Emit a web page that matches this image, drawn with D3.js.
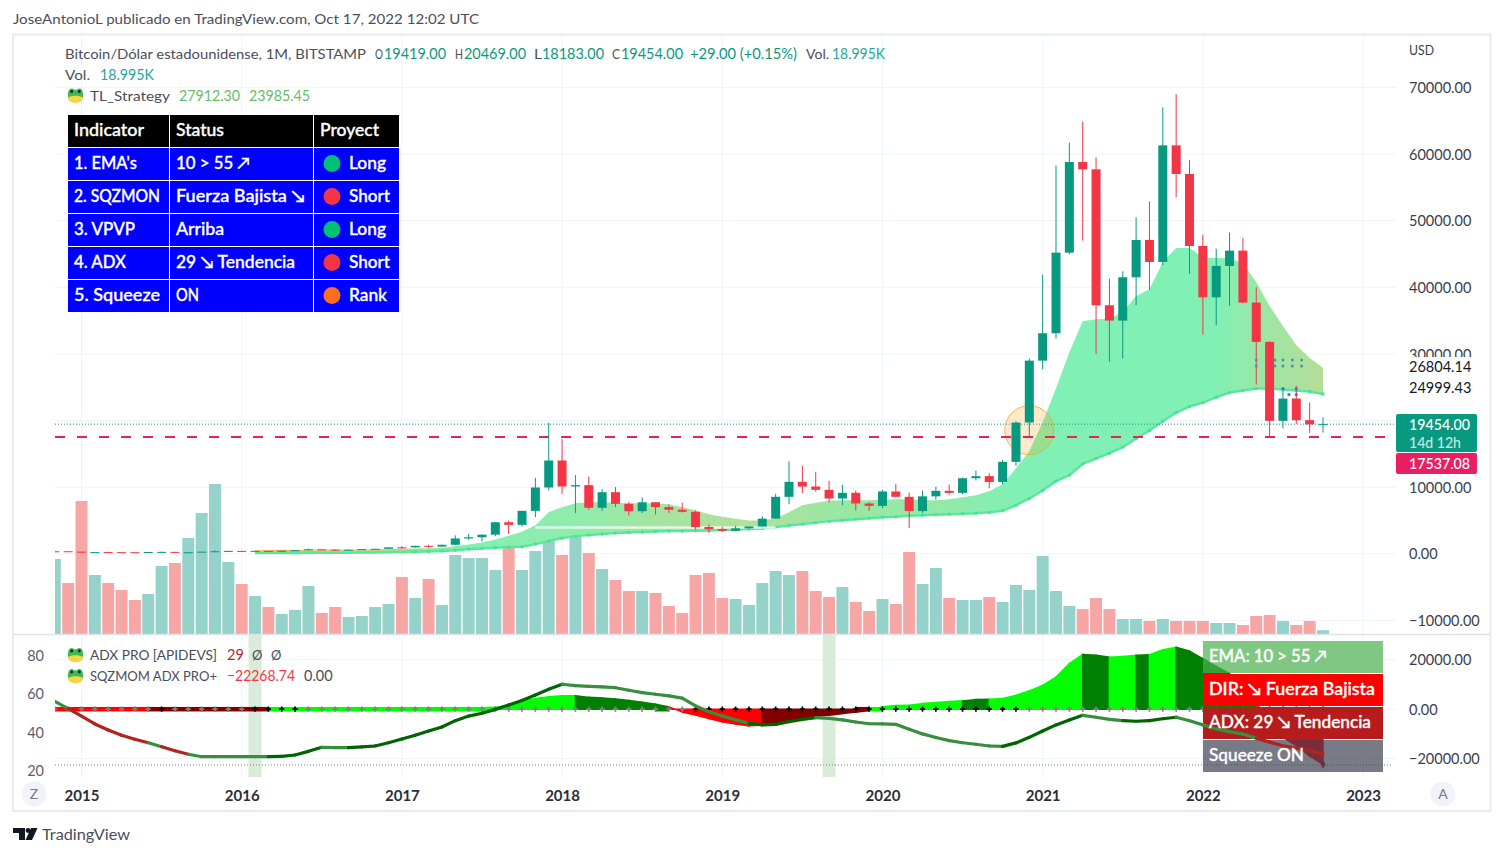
<!DOCTYPE html>
<html>
<head>
<meta charset="utf-8">
<title>BTCUSD</title>
<script src="https://cdn.jsdelivr.net/npm/d3@7"></script>
<style>
  html, body { margin: 0; padding: 0; background: #fff; }
  svg { display: block; }
  text { font-family: Lato, "Noto Sans", sans-serif; }
</style>
</head>
<body>
<div id="vis"></div>
<script>
// monthly bars, Nov 2014 -> Oct 2022
const opens = [338,378,320,217,254,244,236,230,263,284,230,236,314,377,430,368,436,416,448,530,671,624,575,610,700,745,968,965,1190,1080,1350,2300,2480,2870,4730,4340,6440,9950,14000,10100,10300,6900,9240,7500,6390,7730,7010,6610,6300,4015,3700,3440,3820,4100,5270,8550,10800,10090,9600,8300,9150,7550,7190,9350,8550,6410,8620,9450,9140,11340,11650,10780,13800,19700,28990,33100,45200,58800,57700,37300,35000,41500,47100,43800,61300,57000,46200,38500,43200,45500,37700,31800,19950,23300,20050,19419];
const highs = [457,382,320,266,300,261,247,268,318,285,262,335,502,470,465,448,440,470,550,780,705,620,640,740,760,980,1150,1200,1350,1350,2760,2990,2900,4750,4980,6450,11400,19666,17200,11800,11600,9750,10000,7780,8480,7750,7400,7680,6500,4400,4070,4200,4100,5600,9000,13880,13200,12300,10950,10350,9500,7750,9590,10500,9190,9460,10070,10380,11450,12480,12080,14100,19880,29300,41900,58300,61700,64900,59500,41300,42400,50500,52900,67000,69000,59100,47900,45800,48200,47400,40000,31900,24650,25200,22700,20469];
const lows = [320,309,152,212,236,214,228,218,252,198,225,235,310,350,350,367,395,412,435,530,605,470,570,605,690,745,750,930,890,1065,1350,2100,1830,2670,2950,4110,5500,9500,9000,6100,6600,6450,7000,5750,6100,5880,6100,6200,3650,3130,3350,3380,3700,4060,5250,7440,9100,9320,7700,7300,6500,6430,6850,8450,3850,6150,8120,8900,8950,11000,9830,10400,13200,17600,27700,32300,45000,47000,30000,28800,29300,37300,39600,43300,53500,42000,32900,34300,37200,37600,25400,17600,18800,19500,18150,18183];
const closes = [378,320,217,254,244,236,230,263,284,230,236,314,377,430,368,436,416,448,530,671,624,575,610,700,745,965,965,1190,1080,1350,2300,2480,2870,4730,4340,6440,9950,14000,10100,10300,6900,9240,7500,6390,7730,7010,6610,6300,4015,3700,3440,3820,4100,5270,8550,10800,10090,9600,8300,9150,7550,7190,9350,8550,6410,8620,9450,9140,11340,11650,10780,13800,19700,28990,33100,45200,58800,57700,37300,35000,41500,47100,43800,61300,57000,46200,38500,43200,45500,37700,31800,19950,23300,20050,19420,19454];
// volume in K
const volumes = [375,255,665,295,255,220,170,200,340,355,480,605,750,360,250,190,135,100,120,240,105,135,85,90,135,150,285,180,275,145,395,380,380,320,440,320,415,475,395,490,405,325,270,215,215,205,140,105,295,305,180,175,145,255,315,295,315,215,185,235,160,115,175,150,410,250,330,180,170,170,185,160,245,220,390,215,140,125,180,125,75,75,65,75,65,65,65,55,55,45,90,95,65,45,65,19];

// ribbon TL_Strategy, Feb 2016 -> Oct 2022
const ribbonStart = 15;
const emaFast = [560,580,600,610,620,630,640,650,660,680,710,740,790,840,920,1120,1400,1700,2150,2700,3300,4300,6250,7000,7600,7750,7750,7650,7600,7600,7600,7450,7000,6550,5950,5550,5250,5000,5000,5300,6250,7300,7650,7950,8050,8050,8050,8100,8200,8200,8050,8050,8200,8500,8800,9400,10450,12850,15400,19750,24850,30250,34900,35200,35300,36250,38700,39700,43800,45900,45900,44500,44400,44400,43600,40800,37200,34200,31300,29400,27912];
const emaSlow = [120,125,130,135,140,150,160,170,180,200,220,250,300,350,420,520,700,800,900,1000,1050,1450,1900,2350,2650,2800,2950,3100,3200,3250,3350,3400,3400,3450,3500,3550,3650,3700,3800,4000,4250,4450,4650,4900,5050,5200,5350,5500,5550,5700,5800,5850,5950,6000,6100,6250,6450,7300,8300,9500,10900,11800,13500,14300,15100,16000,17300,18500,19900,21200,22100,22700,23500,24200,24500,24800,24800,24650,24500,24350,23985];
const ribbonStopIdx = [15,17,19,26,31,40,46,52,58,66,72,87,91,95];
const ribbonStopColor = ["#f8c46c","#f6ad4c","#d8cf6e","#a9dc8c","#81f0b4","#92ebaa","#a6e3a0","#b2e09a","#9be6a2","#94e9a8","#81f0b4","#81f0b4","#a0e5a4","#b4dd96"];

// lower pane
const adxValues = [56.2,52.4,48.5,44.4,41.2,38.5,36.4,34.6,32.5,30.4,28.6,27.3,27.3,27.3,27.3,27.3,27.3,27.5,28.2,30.1,32.2,32,32,32.4,32.9,34.6,36.5,38.5,40.7,42.8,46.1,48.5,50,52,54.3,56.6,59.5,62.5,65.1,64.4,64,63.7,63.3,62,60.7,59.9,59,57.9,53.8,50.8,48.5,46.5,44.7,43.9,44.2,45.6,46.8,47.7,47.3,46.5,45.4,44.5,44.4,44.2,41.6,39.2,37.3,35.7,34.6,33.8,32.9,32.7,34.5,37.4,40.7,43.9,46.5,48.9,47.9,46.8,46.1,45.8,46.1,47.1,47.9,46.1,43.9,41.8,40.4,39.1,37,34.9,33,31.8,30.5,28.8];
// colour runs: d = dark green, m = faded green, r = red; colour of the piece that ends on that bar
const adxRuns = [["m",2],["r",6],["m",1],["r",2],["m",6],["d",4],["m",2],["d",16],["m",14],["d",5],["m",14],["d",6],["m",3],["d",4],["m",6],["r",5]];
const momValues = [-250,-260,-300,-300,-280,-250,-230,-260,-270,-250,-220,-200,-180,-150,-120,-90,-50,50,70,90,100,110,120,130,150,170,190,210,240,270,300,400,600,800,1200,3350,4300,5000,5400,5400,4800,4550,4150,3500,2800,2000,950,-1100,-2400,-3750,-5100,-6000,-6700,-6400,-5800,-4700,-3750,-2800,-2400,-1750,-1200,-500,950,1450,1600,2300,2700,3100,3350,3900,4000,4300,5600,7400,9650,13000,18400,22100,21800,21000,21300,21800,22000,24000,25000,23450,20400,17300,14300,9000,3000,-7500,-11400,-14600,-18900,-22268];
// colour runs: L lime, G green, R red, M maroon
const momRuns = [["R",8],["M",9],["L",23],["G",7],["R",7],["M",8],["L",7],["G",2],["L",7],["G",2],["L",2],["G",1],["L",2],["G",6],["R",5]];
const squeezeBlack = [8,15,16,17,18,48,49,50,51,52,53,54,55,56,57,58,59,60,61,62,63,64,65,66,67,68,69,70,71,72,91,92,93,94,95];
const fireBars = [15,58];

const dotBars = [90,91.4,92,92.7,93.4];
const dotPrices = [29100,28200];
const dotExtra = [[92,24800],[92.45,23900],[93,23900],[93,24800]];

const priceTicks = [70000,60000,50000,40000,30000,20000,10000,0,-10000];
const priceLabelTicks = [70000,60000,50000,40000,30000,10000,0,-10000];
const momTicks = [20000,0,-20000];
const adxTicks = [80,60,40,20];
const yearBars = [2,14,26,38,50,62,74,86,98];
const yearLabels = ["2015","2016","2017","2018","2019","2020","2021","2022","2023"];

const tableHeader = ["Indicator","Status","Proyect"];
const tableIndicators = ["1. EMA's","2. SQZMON","3. VPVP","4. ADX","5. Squeeze"];
const tableStatus = ["10 > 55 ↗","Fuerza Bajista ↘","Arriba","29 ↘ Tendencia","ON"];
const tableProject = ["Long","Short","Long","Short","Rank"];
const tableDots = ["#00c073","#f23645","#00c073","#f23645","#ff6d1f"];

const panelLabels = ["EMA: 10 > 55 ↗","DIR: ↘ Fuerza Bajista","ADX: 29 ↘ Tendencia","Squeeze ON"];
const panelColors = ["rgba(76,175,80,0.7)","#ff0000","#b71c1c","rgba(62,66,82,0.7)"];

const GREEN = "#089981", RED = "#f23645", PINK = "#e91e63";
const stateColor = { L: "#00ff00", G: "#008000", R: "#ff0000", M: "#800000",
                     d: "#006400", m: "#388e3c", r: "#b22222" };

const expandRuns = runs => runs.flatMap(r => Array(r[1]).fill(r[0]));
const adxStates = expandRuns(adxRuns);
const momStates = expandRuns(momRuns);

const svg = d3.select("#vis").append("svg").attr("width", 1504).attr("height", 856);

// scales
const x = d3.scaleLinear().domain([0, 95]).range([54.8, 1323]);
const yPrice = d3.scaleLinear().domain([-10000, 70000]).range([620.4, 87.4]);
const yVol = d3.scaleLinear().domain([0, 750]).range([634, 484]);
const yMom = d3.scaleLinear().domain([-20000, 20000]).range([758.7, 659.7]);
const yAdx = d3.scaleLinear().domain([20, 80]).range([770.7, 655.7]);

const defs = svg.append("defs");
defs.append("clipPath").attr("id", "clipMain").append("rect")
    .attr("x", 55).attr("y", 35).attr("width", 1341).attr("height", 599);
defs.append("clipPath").attr("id", "clipLow").append("rect")
    .attr("x", 55).attr("y", 635).attr("width", 1341).attr("height", 142);

const grad = defs.append("linearGradient").attr("id", "ribbonFill")
    .attr("gradientUnits", "userSpaceOnUse")
    .attr("x1", x(ribbonStart)).attr("x2", x(95)).attr("y1", 0).attr("y2", 0);
grad.selectAll("stop").data(ribbonStopIdx).join("stop")
    .attr("offset", d => (d - ribbonStart) / (95 - ribbonStart))
    .attr("stop-color", (d, i) => ribbonStopColor[i]);

// helper for plain labels
function label(parent, px, py, s, fill, size, width, weight) {
    const t = parent.append("text").attr("x", px).attr("y", py).attr("fill", fill)
        .attr("font-size", size).text(s);
    if (width) t.attr("textLength", width).attr("lengthAdjust", "spacingAndGlyphs");
    if (weight) t.attr("font-weight", weight);
    return t;
}
// white labels inside the table and the panel, slightly heavier
function boldLabel(parent, px, py, s, width) {
    return label(parent, px, py, s, "#fff", 17, width, 500)
        .attr("stroke", "#fff").attr("stroke-width", 0.35);
}

// frame
svg.append("rect").attr("x", 13).attr("y", 34.5).attr("width", 1477.5).attr("height", 776.5)
    .attr("fill", "none").attr("stroke", "#e9eaec").attr("stroke-width", 2);

// grid
const grid = svg.append("g").attr("stroke", "#f0f3fa").attr("stroke-width", 1);
grid.selectAll(".h").data(priceTicks).join("line")
    .attr("x1", 55).attr("x2", 1396)
    .attr("y1", d => yPrice(d)).attr("y2", d => yPrice(d));
grid.selectAll(".v").data(yearBars).join("line")
    .attr("x1", d => x(d)).attr("x2", d => x(d)).attr("y1", 35).attr("y2", 777);
grid.selectAll(".m").data(momTicks).join("line")
    .attr("x1", 55).attr("x2", 1396)
    .attr("y1", d => yMom(d)).attr("y2", d => yMom(d));

const main = svg.append("g").attr("clip-path", "url(#clipMain)");

// volume
main.append("g").selectAll("rect").data(volumes).join("rect")
    .attr("x", (d, i) => x(i) - 6)
    .attr("width", 12)
    .attr("y", d => yVol(d))
    .attr("height", d => 634 - yVol(d))
    .attr("fill", (d, i) => closes[i] >= opens[i] ? "#94d2ca" : "#f7a6a6");

// ribbon
const ribbonData = emaFast.map((d, i) => ({ i: i + ribbonStart, fast: d, slow: emaSlow[i] }));
main.append("path").datum(ribbonData)
    .attr("fill", "url(#ribbonFill)")
    .attr("d", d3.area().x(d => x(d.i)).y0(d => yPrice(d.slow)).y1(d => yPrice(d.fast)));
main.append("path").datum(ribbonData)
    .attr("fill", "none").attr("stroke", "#58e89c").attr("stroke-width", 2.5)
    .attr("d", d3.line().x(d => x(d.i)).y(d => yPrice(d.slow)));
main.append("g").selectAll("circle").data(ribbonData.filter(d => d.i > 26)).join("circle")
    .attr("cx", d => x(d.i)).attr("cy", d => yPrice(d.slow)).attr("r", 1.7)
    .attr("fill", "#48e296");
// pale strip inside the ribbon
main.append("line")
    .attr("x1", x(36)).attr("x2", x(54))
    .attr("y1", yPrice(3950)).attr("y2", yPrice(3950))
    .attr("stroke", "#fff").attr("stroke-opacity", 0.75).attr("stroke-width", 2.5);

// circle marker
main.append("circle").attr("cx", x(73)).attr("cy", yPrice(18550)).attr("r", 24.5)
    .attr("fill", "#ff9800").attr("fill-opacity", 0.2)
    .attr("stroke", "#f5a623").attr("stroke-opacity", 0.8);

// level lines
main.append("line").attr("x1", 55).attr("x2", 1396)
    .attr("y1", yPrice(19454)).attr("y2", yPrice(19454))
    .attr("stroke", GREEN).attr("stroke-dasharray", "1 2");
main.append("line").attr("x1", 55).attr("x2", 1386)
    .attr("y1", yPrice(17537)).attr("y2", yPrice(17537))
    .attr("stroke", PINK).attr("stroke-width", 2).attr("stroke-dasharray", "10 12");

// candles
const candles = main.append("g").selectAll("g").data(opens).join("g")
    .attr("fill", (d, i) => closes[i] >= d ? GREEN : RED)
    .attr("stroke", (d, i) => closes[i] >= d ? GREEN : RED);
candles.append("line")
    .attr("x1", (d, i) => x(i)).attr("x2", (d, i) => x(i))
    .attr("y1", (d, i) => yPrice(highs[i])).attr("y2", (d, i) => yPrice(lows[i]));
candles.append("rect")
    .attr("stroke", "none")
    .attr("x", (d, i) => x(i) - 4.5).attr("width", 9)
    .attr("y", (d, i) => yPrice(Math.max(d, closes[i])))
    .attr("height", (d, i) => Math.max(1, Math.abs(yPrice(d) - yPrice(closes[i]))));

// blue dots near the last bars
const dotPts = dotBars.flatMap(b => dotPrices.map(p => [b, p]));
main.append("g").selectAll("circle").data(dotPts).join("circle")
    .attr("cx", d => x(d[0])).attr("cy", d => yPrice(d[1])).attr("r", 1.5).attr("fill", "#4f8fb0");
main.append("g").selectAll("circle").data(dotExtra).join("circle")
    .attr("cx", d => x(d[0])).attr("cy", d => yPrice(d[1])).attr("r", 1.6).attr("fill", "#3f77c8");

// pane separator
svg.append("line").attr("x1", 13).attr("x2", 1490).attr("y1", 634.5).attr("y2", 634.5)
    .attr("stroke", "#e0e3eb").attr("stroke-width", 1.5);

// lower pane
const low = svg.append("g").attr("clip-path", "url(#clipLow)");
low.append("g").selectAll("rect").data(fireBars).join("rect")
    .attr("x", d => x(d) - 6.5).attr("width", 13).attr("y", 635).attr("height", 142)
    .attr("fill", "#d9ecd9");

low.append("line").attr("x1", 55).attr("x2", 1393)
    .attr("y1", yAdx(23)).attr("y2", yAdx(23))
    .attr("stroke", "#787b86").attr("stroke-dasharray", "1 2");

const momArea = d3.area().x(d => x(d.i)).y0(yMom(0)).y1(d => yMom(d.v));
const momPieces = d3.range(1, 96).map(i => ({
    s: momStates[i],
    pts: [{ i: i - 1, v: momValues[i - 1] }, { i: i, v: momValues[i] }]
}));
low.append("g").selectAll("path").data(momPieces).join("path")
    .attr("d", d => momArea(d.pts))
    .attr("fill", d => stateColor[d.s])
    .attr("stroke", d => stateColor[d.s]).attr("stroke-width", 1.5);
// zero band of the histogram
low.append("g").selectAll("line").data(momPieces.filter(d => Math.abs(d.pts[1].v) < 1000)).join("line")
    .attr("x1", d => x(d.pts[0].i)).attr("x2", d => x(d.pts[1].i))
    .attr("y1", yMom(0)).attr("y2", yMom(0))
    .attr("stroke", d => stateColor[d.s]).attr("stroke-width", 4.5);
// tip of the last histogram value
low.append("path")
    .attr("transform", `translate(${x(95)},${yMom(momValues[95])})`)
    .attr("d", d3.symbol(d3.symbolDiamond, 22))
    .attr("fill", "#a01c2c");

// squeeze crosses on the zero line
low.append("g").selectAll("path").data(d3.range(0, 96)).join("path")
    .attr("transform", i => `translate(${x(i)},${yMom(0)})`)
    .attr("d", d3.symbol(d3.symbolCross, 15))
    .attr("fill", i => squeezeBlack.includes(i) ? "#000" : "#808080");

// panel at bottom right
const panelRowsTop = [641, 674, 707, 740];
const panelTextWidths = [118, 166, 162, 95];
low.append("g").selectAll("rect").data(panelLabels).join("rect")
    .attr("x", 1203).attr("width", 180).attr("height", 32)
    .attr("y", (d, i) => panelRowsTop[i])
    .attr("fill", (d, i) => panelColors[i]);

// adx line on top of the panel
const adxLine = d3.line().x(d => x(d.i)).y(d => yAdx(d.v));
const adxPieces = d3.range(1, 96).map(i => ({
    s: adxStates[i],
    pts: [{ i: i - 1, v: adxValues[i - 1] }, { i: i, v: adxValues[i] }]
}));
low.append("g").selectAll("path").data(adxPieces).join("path")
    .attr("d", d => adxLine(d.pts))
    .attr("fill", "none").attr("stroke-width", 3.2).attr("stroke-linecap", "round")
    .attr("stroke", d => stateColor[d.s]);

panelLabels.forEach((d, i) => boldLabel(low, 1209, panelRowsTop[i] + 21, d, panelTextWidths[i]));

// axes
const priceAxis = svg.append("g").attr("transform", "translate(1406,0.5)")
    .call(d3.axisRight(yPrice).tickValues(priceLabelTicks).tickSize(0).tickPadding(3)
        .tickFormat(d => d.toFixed(2).replace("-", "−")));
const momAxis = svg.append("g").attr("transform", "translate(1406,0.5)")
    .call(d3.axisRight(yMom).tickValues(momTicks).tickSize(0).tickPadding(3)
        .tickFormat(d => d.toFixed(2).replace("-", "−")));
const adxAxis = svg.append("g").attr("transform", "translate(46,0)")
    .call(d3.axisLeft(yAdx).tickValues(adxTicks).tickSize(0).tickPadding(2));
const timeAxis = svg.append("g").attr("transform", "translate(0,787)")
    .call(d3.axisBottom(x).tickValues(yearBars).tickSize(0).tickPadding(3)
        .tickFormat((d, i) => yearLabels[i]));
[priceAxis, momAxis, adxAxis, timeAxis].forEach(g => {
    g.select(".domain").remove();
    g.selectAll("text").attr("font-family", "Lato, sans-serif").attr("font-size", 14.5).attr("fill", "#3a3e4a");
});
adxAxis.selectAll("text").attr("fill", "#5d606b");
timeAxis.selectAll("text").attr("font-weight", 700).attr("font-size", 15).attr("fill", "#2a2e39");

// price labels on the scale
svg.append("rect").attr("x", 1397).attr("y", 357).attr("width", 90).attr("height", 42).attr("fill", "#fff");
label(svg, 1409, 372, "26804.14", "#131722", 14.5);
label(svg, 1409, 393, "24999.43", "#131722", 14.5);
svg.append("rect").attr("x", 1396).attr("y", 414).attr("width", 81).attr("height", 38).attr("rx", 2).attr("fill", GREEN);
svg.append("rect").attr("x", 1396).attr("y", 453).attr("width", 81).attr("height", 21).attr("rx", 2).attr("fill", PINK);
label(svg, 1409, 429.5, "19454.00", "#fff", 14.5, 61, 500);
label(svg, 1409, 447.5, "14d 12h", "#c4e8e0", 14.5, 52, 500);
label(svg, 1409, 469, "17537.08", "#fff", 14.5, 61, 500);
label(svg, 1409, 55, "USD", "#3a3e4a", 14, 25);

// round buttons
[[34, "Z"], [1443, "A"]].forEach(b => {
    svg.append("circle").attr("cx", b[0]).attr("cy", 794).attr("r", 12.5).attr("fill", "#f0f3fa");
    label(svg, b[0], 799, b[1], "#787b86", 14).attr("text-anchor", "middle");
});

// header, footer
label(svg, 13, 24, "JoseAntonioL publicado en TradingView.com, Oct 17, 2022 12:02 UTC", "#4a4e59", 14, 466);
svg.append("path").attr("fill", "#131722").attr("transform", "translate(13,828)")
    .attr("d", "M0 0H12V12H6V5H0Z M18 0H24.5L19 12H12.5Z");
svg.append("circle").attr("cx", 28).attr("cy", 830.5).attr("r", 2.4).attr("fill", "#131722");
label(svg, 42, 840, "TradingView", "#4a4e59", 15.5, 88);

// legends
const legendGrey = "#4a4e59", legendGreen = GREEN;
label(svg, 65, 59, "Bitcoin/Dólar estadounidense, 1M, BITSTAMP", legendGrey, 14, 301);
[["O", 375], ["H", 455], ["L", 534], ["C", 612]].forEach(d => label(svg, d[1], 59, d[0], legendGrey, 14, 8));
[["19419.00", 384], ["20469.00", 464], ["18183.00", 542], ["19454.00", 621]].forEach(d =>
    label(svg, d[1], 59, d[0], legendGreen, 14.5, 62));
label(svg, 690, 59, "+29.00 (+0.15%)", legendGreen, 14.5, 107);
label(svg, 806, 59, "Vol.", legendGrey, 14, 23);
label(svg, 832, 59, "18.995K", "#26a69a", 14.5, 53);
label(svg, 65, 80, "Vol.", legendGrey, 14, 25);
label(svg, 100, 80, "18.995K", "#26a69a", 14.5, 54);
label(svg, 90, 101, "TL_Strategy", legendGrey, 14, 80);
label(svg, 179, 101, "27912.30", "#66bb6a", 14.5, 61);
label(svg, 249, 101, "23985.45", "#66bb6a", 14.5, 61);
label(svg, 90, 660, "ADX PRO [APIDEVS]", legendGrey, 14, 127);
label(svg, 227, 660, "29", "#b22833", 14.5);
label(svg, 252, 660, "Ø", legendGrey, 13);
label(svg, 271, 660, "Ø", legendGrey, 13);
label(svg, 90, 681, "SQZMOM ADX PRO+", legendGrey, 14, 127);
label(svg, 227, 681, "−22268.74", RED, 14.5, 68);
label(svg, 304, 681, "0.00", legendGrey, 14.5);

// small frog icons
function frog(cx, cy) {
    const g = svg.append("g").attr("transform", `translate(${cx},${cy})`);
    g.append("ellipse").attr("cx", 0).attr("cy", 2.5).attr("rx", 7.5).attr("ry", 5).attr("fill", "#f5d547");
    g.append("path").attr("fill", "#3fb950")
        .attr("d", "M-7.5 2C-8 -3 -7 -7 -3.8 -7C-2 -7 -1.5 -5.5 0 -5.5C1.5 -5.5 2 -7 3.8 -7C7 -7 8 -3 7.5 2C4 -0.5 -4 -0.5 -7.5 2Z");
    g.append("circle").attr("cx", -3.8).attr("cy", -4).attr("r", 1.4).attr("fill", "#123");
    g.append("circle").attr("cx", 3.8).attr("cy", -4).attr("r", 1.4).attr("fill", "#123");
}
frog(75.5, 95.5); frog(75.5, 655); frog(75.5, 676);

// status table
const tableCols = [68, 170, 314];
const tableWidths = [101, 143, 85];
const headerTextWidths = [70, 48, 59];
const indicatorTextWidths = [63, 86, 61, 52, 86];
const statusTextWidths = [74, 129, 48, 119, 23];
const projectTextWidths = [37, 41, 37, 41, 38];
const table = svg.append("g");
const rowTop = r => 115 + r * 33;
tableHeader.forEach((h, c) => {
    table.append("rect").attr("x", tableCols[c]).attr("y", rowTop(0)).attr("width", tableWidths[c]).attr("height", 32).attr("fill", "#000");
    boldLabel(table, tableCols[c] + 6, rowTop(0) + 21, h, headerTextWidths[c]);
});
tableIndicators.forEach((name, r) => {
    const top = rowTop(r + 1);
    tableCols.forEach((cx, c) => {
        table.append("rect").attr("x", cx).attr("y", top).attr("width", tableWidths[c]).attr("height", 32).attr("fill", "#0000ff");
    });
    boldLabel(table, 74, top + 21, name, indicatorTextWidths[r]);
    boldLabel(table, 176, top + 21, tableStatus[r], statusTextWidths[r]);
    table.append("circle").attr("cx", 332).attr("cy", top + 15.5).attr("r", 8.5).attr("fill", tableDots[r]);
    boldLabel(table, 349, top + 21, tableProject[r], projectTextWidths[r]);
});
</script>
</body>
</html>
